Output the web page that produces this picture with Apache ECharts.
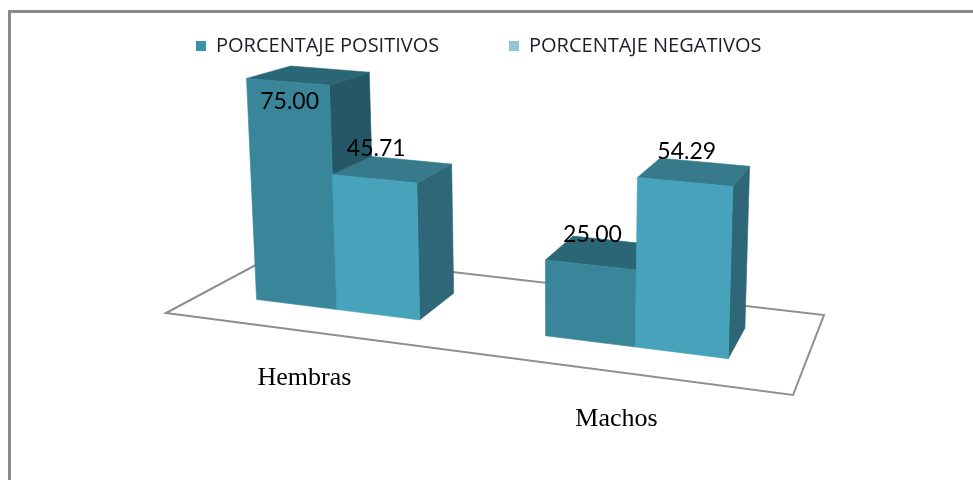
<!DOCTYPE html>
<html>
<head>
<meta charset="utf-8">
<script src="https://cdn.jsdelivr.net/npm/echarts@6/dist/echarts.min.js"></script>
<style>
html,body{margin:0;padding:0;background:#fff;}
#chart{width:973px;height:480px;}
</style>
</head>
<body>
<div id="chart"></div>
<script>
// ---- data ----
const categories = ['Hembras', 'Machos'];
const seriesNames = ['PORCENTAJE POSITIVOS', 'PORCENTAJE NEGATIVOS'];
const positivos = [75.00, 25.00];
const negativos = [45.71, 54.29];

// ---- perspective camera (floor u,v in [0,1], height Y = value/100) ----
const CAM = {
  a: 537.95, p: -25.0, b: 158.52, c: 166,
  d: 37.64, q: -309.0, e: -20.93, f: 313,
  g: -0.1123, r: -0.045, h: 0.159
};
function proj(u, Y, v) {
  const w = CAM.g * u + CAM.r * Y + CAM.h * v + 1;
  return [
    (CAM.a * u + CAM.p * Y + CAM.b * v + CAM.c) / w,
    (CAM.d * u + CAM.q * Y + CAM.e * v + CAM.f) / w
  ];
}
const U_SHIFT = -0.008;
const BAR_FRAC = 0.289;
const Z_FRONT = 0.30, Z_BACK = 0.695;

function poly(points, color) {
  return { type: 'polygon', shape: { points: points }, style: { fill: color, stroke: color, lineWidth: 0.6 } };
}

function makeBarRender(side, colors) {
  return function (params, api) {
    const cs = params.coordSys;
    const ci = api.value(0), val = api.value(1);
    const top = api.coord([ci, val]);
    const base = api.coord([ci, 0]);
    const bandW = api.size([1, 0])[0];
    const uc = (top[0] - cs.x) / cs.width + U_SHIFT;
    const Y = (base[1] - top[1]) / cs.height;
    const bu = bandW / cs.width * BAR_FRAC;
    const u0 = side < 0 ? uc - bu : uc;
    const u1 = u0 + bu;
    const z0 = Z_FRONT, z1 = Z_BACK;
    const sideFace = [proj(u1, 0, z0), proj(u1, 0, z1), proj(u1, Y, z1), proj(u1, Y, z0)];
    const topFace = [proj(u0, Y, z0), proj(u1, Y, z0), proj(u1, Y, z1), proj(u0, Y, z1)];
    const front = [proj(u0, 0, z0), proj(u1, 0, z0), proj(u1, Y, z0), proj(u0, Y, z0)];
    const ftc = proj((u0 + u1) / 2, Y, z0);
    let ly = ftc[1] - 30;
    if (ly < 75) ly = ftc[1] + 20;
    return {
      type: 'group',
      children: [
        poly(sideFace, colors.side),
        poly(topFace, colors.top),
        poly(front, colors.front),
        { type: 'text', z2: 10, style: {
            text: val.toFixed(2), x: ftc[0] + 2, y: ly,
            fill: '#000', fontFamily: 'Lato', fontSize: 23,
            align: 'center', verticalAlign: 'middle', textAlign: 'center', textVerticalAlign: 'middle'
        } }
      ]
    };
  };
}

const chart = echarts.init(document.getElementById('chart'));
const legendText = { fontFamily: 'Open Sans', fontSize: 20, color: '#1e1e2a', padding: [0, 0, 0, 5] };
const option = {
  animation: false,
  backgroundColor: '#fff',
  grid: { left: 100, right: 100, top: 100, bottom: 100, show: false },
  xAxis: { type: 'category', data: categories, show: false },
  yAxis: { type: 'value', min: 0, max: 100, show: false },
  legend: [
    { data: [seriesNames[0]], left: 191, top: 31, icon: 'rect', itemWidth: 10, itemHeight: 10, selectedMode: false,
      textStyle: legendText },
    { data: [seriesNames[1]], left: 504, top: 31, icon: 'rect', itemWidth: 10, itemHeight: 10, selectedMode: false,
      textStyle: legendText }
  ],
  graphic: [
    { type: 'rect', shape: { x: 9.5, y: 11.5, width: 1000, height: 1000 },
      style: { fill: 'none', stroke: '#898989', lineWidth: 3 }, z: 100 }
  ],
  series: [
    {
      type: 'custom', name: 'floor', z: 1, silent: true,
      data: [[0, 0]],
      renderItem: function () {
        const pts = [proj(0, 0, 0), proj(1, 0, 0), proj(1, 0, 1), proj(0, 0, 1)];
        return { type: 'polygon', shape: { points: pts },
          style: { fill: '#fff', stroke: '#8e8e8e', lineWidth: 2 } };
      }
    },
    {
      type: 'custom', name: 'categoryLabels', z: 1, silent: true,
      data: categories.map((c, i) => [i, 0]),
      renderItem: function (params, api) {
        const cs = params.coordSys;
        const pt = api.coord([api.value(0), 0]);
        const uc = (pt[0] - cs.x) / cs.width + U_SHIFT;
        const fp = proj(uc, 0, 0);
        return { type: 'text', style: {
          text: categories[params.dataIndex], x: fp[0], y: fp[1] + 47,
          fill: '#000', fontFamily: 'Liberation Serif', fontSize: 26,
          align: 'center', verticalAlign: 'middle', textAlign: 'center', textVerticalAlign: 'middle'
        } };
      }
    },
    {
      type: 'custom', name: seriesNames[0], z: 2,
      itemStyle: { color: '#3d91a8' },
      encode: { x: 0, y: 1 },
      data: positivos.map((v, i) => [i, v]),
      renderItem: makeBarRender(-1, { front: '#39869b', top: '#2b6676', side: '#255866' })
    },
    {
      type: 'custom', name: seriesNames[1], z: 3,
      itemStyle: { color: '#93c5d5' },
      encode: { x: 0, y: 1 },
      data: negativos.map((v, i) => [i, v]),
      renderItem: makeBarRender(1, { front: '#46a3bb', top: '#367a8b', side: '#2e6878' })
    }
  ]
};
chart.setOption(option);
</script>
</body>
</html>
